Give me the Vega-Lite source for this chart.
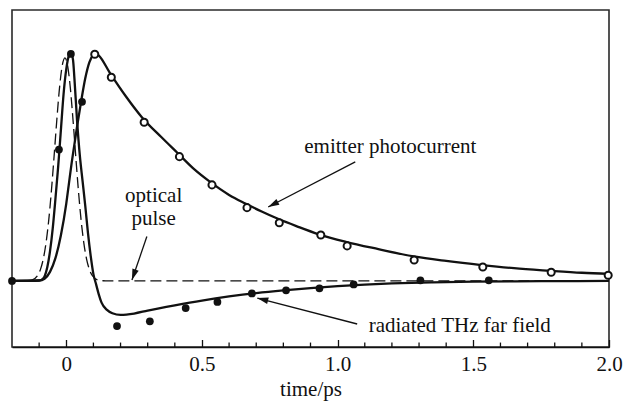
{
  "$schema": "https://vega.github.io/schema/vega-lite/v6.json",
  "width": 597,
  "height": 337,
  "autosize": "none",
  "padding": {"left": 12, "top": 10, "right": 15, "bottom": 57},
  "background": "white",
  "config": {"view": {"stroke": "#2a2a2a", "strokeWidth": 1.6}, "font": "Liberation Serif"},
  "datasets": {
    "pulse": [
      {"t": -0.2, "v": 0}, {"t": -0.165, "v": 0}, {"t": -0.145, "v": 0.001}, {"t": -0.125, "v": 0.005},
      {"t": -0.105, "v": 0.025}, {"t": -0.095, "v": 0.051}, {"t": -0.085, "v": 0.095}, {"t": -0.075, "v": 0.164},
      {"t": -0.065, "v": 0.263}, {"t": -0.055, "v": 0.393}, {"t": -0.045, "v": 0.546}, {"t": -0.035, "v": 0.705},
      {"t": -0.025, "v": 0.847}, {"t": -0.015, "v": 0.945}, {"t": -0.005, "v": 0.98}, {"t": 0.005, "v": 0.945},
      {"t": 0.015, "v": 0.847}, {"t": 0.025, "v": 0.705}, {"t": 0.035, "v": 0.546}, {"t": 0.045, "v": 0.393},
      {"t": 0.055, "v": 0.263}, {"t": 0.065, "v": 0.164}, {"t": 0.075, "v": 0.095}, {"t": 0.085, "v": 0.051},
      {"t": 0.095, "v": 0.025}, {"t": 0.115, "v": 0.005}, {"t": 0.135, "v": 0.001}, {"t": 0.155, "v": 0},
      {"t": 2.0, "v": 0}
    ],
    "thz": [
      {"t": -0.2, "v": 0}, {"t": -0.1, "v": 0.002}, {"t": -0.09, "v": 0.006}, {"t": -0.08, "v": 0.02},
      {"t": -0.07, "v": 0.06}, {"t": -0.06, "v": 0.13}, {"t": -0.05, "v": 0.23}, {"t": -0.04, "v": 0.36},
      {"t": -0.03, "v": 0.5}, {"t": -0.02, "v": 0.66}, {"t": -0.01, "v": 0.82}, {"t": 0.0, "v": 0.93},
      {"t": 0.01, "v": 0.99}, {"t": 0.018, "v": 1.0}, {"t": 0.025, "v": 0.97}, {"t": 0.03, "v": 0.89},
      {"t": 0.04, "v": 0.7}, {"t": 0.05, "v": 0.55}, {"t": 0.06, "v": 0.44}, {"t": 0.07, "v": 0.33},
      {"t": 0.08, "v": 0.21}, {"t": 0.09, "v": 0.11}, {"t": 0.1, "v": 0.03}, {"t": 0.11, "v": -0.015},
      {"t": 0.12, "v": -0.06}, {"t": 0.13, "v": -0.095}, {"t": 0.15, "v": -0.127}, {"t": 0.17, "v": -0.142},
      {"t": 0.2, "v": -0.149}, {"t": 0.25, "v": -0.143}, {"t": 0.3, "v": -0.13}, {"t": 0.4, "v": -0.107},
      {"t": 0.5, "v": -0.086}, {"t": 0.6, "v": -0.068}, {"t": 0.7, "v": -0.053}, {"t": 0.8, "v": -0.041},
      {"t": 0.9, "v": -0.031}, {"t": 1.0, "v": -0.023}, {"t": 1.1, "v": -0.016}, {"t": 1.2, "v": -0.011},
      {"t": 1.35, "v": -0.006}, {"t": 1.5, "v": -0.003}, {"t": 1.75, "v": -0.001}, {"t": 2.0, "v": 0}
    ],
    "pc": [
      {"t": -0.2, "v": 0}, {"t": -0.1, "v": 0.002}, {"t": -0.08, "v": 0.01}, {"t": -0.06, "v": 0.04},
      {"t": -0.04, "v": 0.1}, {"t": -0.02, "v": 0.2}, {"t": 0.0, "v": 0.34}, {"t": 0.01, "v": 0.43},
      {"t": 0.02, "v": 0.52}, {"t": 0.03, "v": 0.6}, {"t": 0.04, "v": 0.68}, {"t": 0.055, "v": 0.79},
      {"t": 0.07, "v": 0.89}, {"t": 0.085, "v": 0.96}, {"t": 0.1, "v": 0.995}, {"t": 0.105, "v": 1.0},
      {"t": 0.12, "v": 0.99}, {"t": 0.16, "v": 0.915}, {"t": 0.22, "v": 0.81}, {"t": 0.28, "v": 0.717},
      {"t": 0.35, "v": 0.632}, {"t": 0.41, "v": 0.562}, {"t": 0.47, "v": 0.492}, {"t": 0.53, "v": 0.435},
      {"t": 0.6, "v": 0.378}, {"t": 0.66, "v": 0.34}, {"t": 0.72, "v": 0.305}, {"t": 0.78, "v": 0.273},
      {"t": 0.85, "v": 0.24}, {"t": 0.93, "v": 0.205}, {"t": 1.03, "v": 0.172}, {"t": 1.15, "v": 0.14},
      {"t": 1.28, "v": 0.108}, {"t": 1.4, "v": 0.088}, {"t": 1.53, "v": 0.07}, {"t": 1.65, "v": 0.056},
      {"t": 1.78, "v": 0.045}, {"t": 1.9, "v": 0.036}, {"t": 2.0, "v": 0.031}
    ],
    "pc_pts": [
      {"t": 0.105, "v": 0.996}, {"t": 0.166, "v": 0.895}, {"t": 0.287, "v": 0.697}, {"t": 0.417, "v": 0.546},
      {"t": 0.537, "v": 0.422}, {"t": 0.666, "v": 0.322}, {"t": 0.785, "v": 0.256}, {"t": 0.938, "v": 0.202},
      {"t": 1.035, "v": 0.154}, {"t": 1.282, "v": 0.092}, {"t": 1.535, "v": 0.061}, {"t": 1.787, "v": 0.038},
      {"t": 1.997, "v": 0.025}
    ],
    "thz_pts": [
      {"t": -0.2, "v": 0}, {"t": -0.027, "v": 0.577}, {"t": 0.017, "v": 0.997}, {"t": 0.058, "v": 0.787},
      {"t": 0.187, "v": -0.198}, {"t": 0.308, "v": -0.177}, {"t": 0.44, "v": -0.119}, {"t": 0.557, "v": -0.092},
      {"t": 0.684, "v": -0.055}, {"t": 0.81, "v": -0.041}, {"t": 0.933, "v": -0.032}, {"t": 1.059, "v": -0.015},
      {"t": 1.305, "v": 0.003}, {"t": 1.557, "v": 0.003}
    ],
    "minor_ticks": [
      {"t": -0.1}, {"t": 0.1}, {"t": 0.2}, {"t": 0.3}, {"t": 0.4}, {"t": 0.6}, {"t": 0.7}, {"t": 0.8}, {"t": 0.9},
      {"t": 1.1}, {"t": 1.2}, {"t": 1.3}, {"t": 1.4}, {"t": 1.6}, {"t": 1.7}, {"t": 1.8}, {"t": 1.9}
    ],
    "arrows": [
      {"name": "pc", "t": 1.065, "v": 0.523, "t2": 0.744, "v2": 0.325},
      {"name": "pulse", "t": 0.297, "v": 0.195, "t2": 0.242, "v2": 0.004},
      {"name": "thz", "t": 1.072, "v": -0.189, "t2": 0.704, "v2": -0.075}
    ],
    "labels": [
      {"t": 1.194, "v": 0.562, "text": "emitter photocurrent"},
      {"t": 0.322, "v": 0.348, "text": "optical"},
      {"t": 0.322, "v": 0.246, "text": "pulse"},
      {"t": 1.45, "v": -0.223, "text": "radiated THz far field"}
    ]
  },
  "layer": [
    {
      "data": {"name": "pulse"},
      "mark": {"type": "line", "color": "#111", "strokeWidth": 1.3, "strokeDash": [11, 5], "interpolate": "monotone"},
      "encoding": {
        "x": {
          "field": "t", "type": "quantitative",
          "scale": {"domain": [-0.2, 2.0], "nice": false, "zero": false},
          "axis": {
            "values": [0, 0.5, 1.0, 1.5, 2.0],
            "labelExpr": "datum.value == 0 ? '0' : format(datum.value, '.1f')",
            "tickSize": -7.5,
            "tickColor": "#111", "tickWidth": 1.3,
            "domainColor": "#111", "domainWidth": 1.6,
            "labelFont": "Liberation Serif", "labelFontSize": 21, "labelColor": "#111",
            "labelPadding": 14, "labelOverlap": false, "labelFlush": false, "labelBound": false,
            "grid": false,
            "title": "time/ps", "titleFont": "Liberation Serif", "titleFontSize": 21,
            "titleFontWeight": "normal", "titleColor": "#111", "titlePadding": 4
          }
        },
        "y": {"field": "v", "type": "quantitative", "scale": {"domain": [-0.29, 1.19], "nice": false, "zero": false}, "axis": null}
      }
    },
    {
      "data": {"name": "minor_ticks"},
      "mark": {"type": "rule", "color": "#111", "strokeWidth": 1.3},
      "encoding": {
        "x": {"field": "t", "type": "quantitative"},
        "y": {"datum": -0.29, "type": "quantitative"},
        "y2": {"datum": -0.2705}
      }
    },
    {
      "data": {"name": "thz"},
      "mark": {"type": "line", "color": "#111", "strokeWidth": 2.3, "interpolate": "monotone"},
      "encoding": {"x": {"field": "t", "type": "quantitative"}, "y": {"field": "v", "type": "quantitative"}}
    },
    {
      "data": {"name": "pc"},
      "mark": {"type": "line", "color": "#111", "strokeWidth": 2.3, "interpolate": "monotone"},
      "encoding": {"x": {"field": "t", "type": "quantitative"}, "y": {"field": "v", "type": "quantitative"}}
    },
    {
      "data": {"name": "pc_pts"},
      "mark": {"type": "point", "shape": "circle", "filled": false, "fill": "white", "stroke": "#111", "strokeWidth": 2, "size": 50, "opacity": 1},
      "encoding": {"x": {"field": "t", "type": "quantitative"}, "y": {"field": "v", "type": "quantitative"}}
    },
    {
      "data": {"name": "thz_pts"},
      "mark": {"type": "point", "shape": "circle", "filled": true, "color": "#111", "size": 60, "opacity": 1},
      "encoding": {"x": {"field": "t", "type": "quantitative"}, "y": {"field": "v", "type": "quantitative"}}
    },
    {
      "data": {"name": "arrows"},
      "mark": {"type": "rule", "color": "#111", "strokeWidth": 1.3},
      "encoding": {
        "x": {"field": "t", "type": "quantitative"}, "y": {"field": "v", "type": "quantitative"},
        "x2": {"field": "t2"}, "y2": {"field": "v2"}
      }
    },
    {
      "data": {"name": "arrows"},
      "transform": [{"filter": "datum.name == 'pc'"}],
      "mark": {"type": "point", "shape": "M0,0 L-0.3,1 L0.3,1 Z", "filled": true, "color": "#111", "size": 484, "opacity": 1, "angle": 242.7},
      "encoding": {"x": {"field": "t2", "type": "quantitative"}, "y": {"field": "v2", "type": "quantitative"}}
    },
    {
      "data": {"name": "arrows"},
      "transform": [{"filter": "datum.name == 'pulse'"}],
      "mark": {"type": "point", "shape": "M0,0 L-0.3,1 L0.3,1 Z", "filled": true, "color": "#111", "size": 484, "opacity": 1, "angle": 199.1},
      "encoding": {"x": {"field": "t2", "type": "quantitative"}, "y": {"field": "v2", "type": "quantitative"}}
    },
    {
      "data": {"name": "arrows"},
      "transform": [{"filter": "datum.name == 'thz'"}],
      "mark": {"type": "point", "shape": "M0,0 L-0.3,1 L0.3,1 Z", "filled": true, "color": "#111", "size": 484, "opacity": 1, "angle": 284.6},
      "encoding": {"x": {"field": "t2", "type": "quantitative"}, "y": {"field": "v2", "type": "quantitative"}}
    },
    {
      "data": {"name": "labels"},
      "mark": {"type": "text", "font": "Liberation Serif", "fontSize": 21, "color": "#111", "align": "center", "baseline": "alphabetic"},
      "encoding": {"x": {"field": "t", "type": "quantitative"}, "y": {"field": "v", "type": "quantitative"}, "text": {"field": "text"}}
    }
  ]
}
